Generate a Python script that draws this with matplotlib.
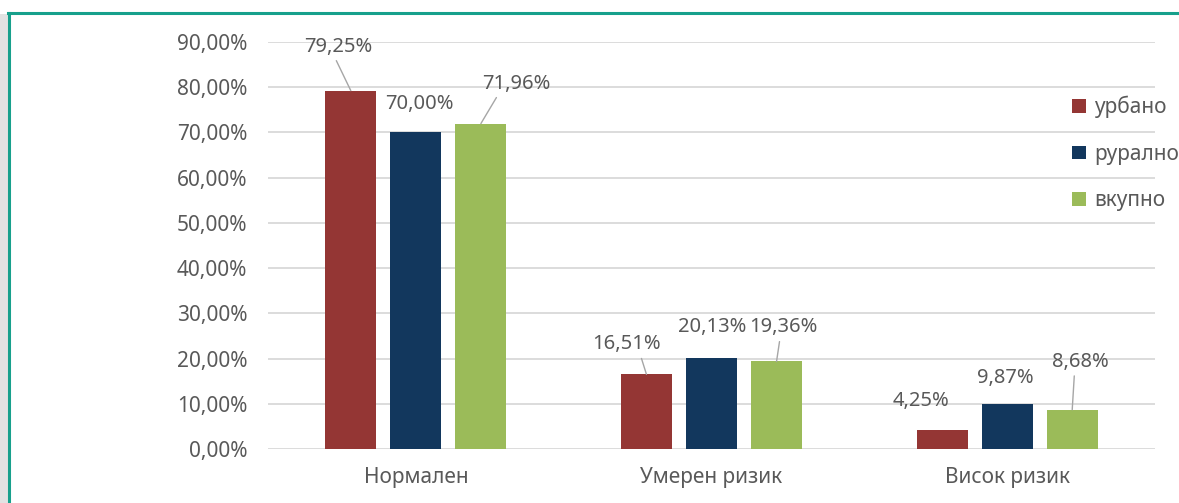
import matplotlib
matplotlib.use("Agg")
import matplotlib.pyplot as plt
from matplotlib.patches import Rectangle
from matplotlib.lines import Line2D
import numpy as np

plt.rcParams["font.family"] = ["Noto Sans", "DejaVu Sans"]

CATEGORIES = ["Нормален", "Умерен ризик", "Висок ризик"]
SERIES = ["урбано", "рурално", "вкупно"]
URBAN = [79.25, 16.51, 4.25]
RURAL = [70.00, 20.13, 9.87]
TOTAL = [71.96, 19.36, 8.68]
COLORS = ["#943634", "#12375d", "#9bbb59"]
YTICKS = [0, 10, 20, 30, 40, 50, 60, 70, 80, 90]

# label offsets (pixels) from bar top, leader line flag, leader start on text
LABEL_STYLE = [
    [((-13, 44), True, (0.45, 0.0)), ((-20, 30), True, (0.7, 0.0)), ((-21, 29), False, None)],
    [((4, 28), False, None), ((1, 31), False, None), ((-2, 26), False, None)],
    [((35, 40), True, (0.25, 0.0)), ((7, 34), True, (0.45, 0.0)), ((8, 48), True, (0.4, 0.0))],
]

TEXT = "#595959"
FS = 15
W, H = 1179, 503


def pct(v):
    return f"{v:.2f}".replace(".", ",") + "%"


fig = plt.figure(figsize=(W / 100, H / 100), dpi=100)
fig.patch.set_facecolor("white")

# page decoration: grey strip on the left and teal frame
fig.add_artist(Rectangle((0, 0), 8 / W, 1 - 14 / H, transform=fig.transFigure,
                         facecolor="#e2e2e2", edgecolor="none"))
fig.add_artist(Line2D([9 / W, 9 / W], [0, 1 - 13 / H], transform=fig.transFigure,
                      color="#17a08c", lw=2.2))
fig.add_artist(Line2D([8 / W, 1], [1 - 13 / H, 1 - 13 / H], transform=fig.transFigure,
                      color="#17a08c", lw=2.2))

ax = fig.add_axes([268 / W, 54 / H, 887 / W, 407 / H])
x = np.arange(len(CATEGORIES))
width = 0.172
step = 0.22
series_values = [URBAN, RURAL, TOTAL]
for i, (name, vals, color) in enumerate(zip(SERIES, series_values, COLORS)):
    xs = x + (i - 1) * step
    ax.bar(xs, vals, width, color=color, label=name, zorder=3)
    for j, v in enumerate(vals):
        (dx, dy), leader, relpos = LABEL_STYLE[i][j]
        kw = {}
        if leader:
            kw["arrowprops"] = dict(arrowstyle="-", color="#a6a6a6", lw=1.0,
                                    shrinkA=1, shrinkB=0, relpos=relpos)
        ax.annotate(pct(v), xy=(xs[j], v), xytext=(dx, dy), textcoords="offset pixels",
                    ha="center", va="center", fontsize=FS - 0.5, color=TEXT, zorder=4, **kw)

ax.set_xlim(-0.5, 2.5)
ax.set_ylim(0, 90)
ax.set_yticks(YTICKS)
ax.set_yticklabels([pct(v) for v in YTICKS])
ax.set_xticks(x)
ax.set_xticklabels(CATEGORIES)
ax.yaxis.grid(True, color="#d9d9d9", lw=1.3)
ax.set_axisbelow(True)
for s in ax.spines.values():
    s.set_visible(False)
ax.tick_params(axis="both", length=0, labelsize=FS, labelcolor=TEXT)
ax.tick_params(axis="y", pad=15)
ax.tick_params(axis="x", pad=13)

ax.legend(loc="upper left", bbox_to_anchor=(1072 / W, 1 - 96 / H),
          bbox_transform=fig.transFigure, frameon=False, fontsize=FS,
          labelcolor=TEXT, handlelength=0.65, handleheight=0.65,
          handletextpad=0.4, labelspacing=1.22, borderpad=0, borderaxespad=0)

fig.savefig("out.png", dpi=100)
